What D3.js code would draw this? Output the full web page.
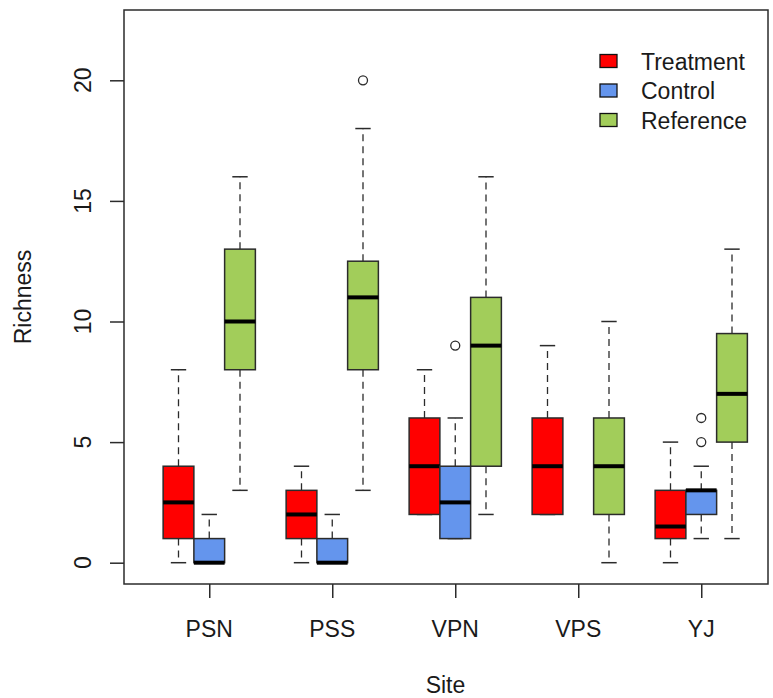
<!DOCTYPE html>
<html>
<head>
<meta charset="utf-8">
<script src="https://cdn.jsdelivr.net/npm/d3@7"></script>
<style>
  html, body { margin: 0; padding: 0; background: #fff; }
  svg { display: block; }
  text { font-family: "Liberation Sans", Arial, sans-serif; fill: #1a1a1a; }
</style>
</head>
<body>
<svg id="chart" width="773" height="698"></svg>
<script>
// Species richness per site, split by plot type.
const sites = ["PSN", "PSS", "VPN", "VPS", "YJ"];
const groups = ["Treatment", "Control", "Reference"];
const groupColors = ["#FF0000", "#6495ED", "#A2CD5A"];
const yTicks = [0, 5, 10, 15, 20];

// Five-number summaries per site: [lower whisker, Q1, median, Q3, upper whisker]
const treatmentStats = [[0, 1, 2.5, 4, 8], [0, 1, 2, 3, 4], [2, 2, 4, 6, 8], [2, 2, 4, 6, 9], [0, 1, 1.5, 3, 5]];
const controlStats   = [[0, 0, 0, 1, 2], [0, 0, 0, 1, 2], [1, 1, 2.5, 4, 6], null, [1, 2, 3, 3, 4]];
const referenceStats = [[3, 8, 10, 13, 16], [3, 8, 11, 12.5, 18], [2, 4, 9, 11, 16], [0, 2, 4, 6, 10], [1, 5, 7, 9.5, 13]];

// Points beyond the whiskers
const treatmentOutliers = [[], [], [], [], []];
const controlOutliers   = [[], [], [9], [], [5, 6]];
const referenceOutliers = [[], [20], [], [], []];

const statsByGroup = [treatmentStats, controlStats, referenceStats];
const outliersByGroup = [treatmentOutliers, controlOutliers, referenceOutliers];

const svg = d3.select("#chart");
const plot = { left: 124, right: 768, top: 10, bottom: 584 };

// Box slots: three per site, one empty slot between sites
const slot = (siteIdx, groupIdx) => 1 + 4 * siteIdx + groupIdx;
const x = d3.scaleLinear().domain([1, 19]).range([178.5, 732]);
const y = d3.scaleLinear().domain([0, 20]).range([562.7, 80.3]);
const boxW = x(2) - x(1);
const capW = boxW / 2;

const lineCol = "#2b2b2b";

// Boxes
const boxes = [];
sites.forEach((s, i) => {
  groups.forEach((g, j) => {
    const st = statsByGroup[j][i];
    if (st) boxes.push({ site: s, group: g, gi: j, pos: slot(i, j), st, out: outliersByGroup[j][i] });
  });
});

const bg = svg.append("g").attr("class", "boxes");
boxes.forEach(b => {
  const g = bg.append("g");
  const cx = x(b.pos);
  const [lo, q1, med, q3, hi] = b.st;
  // whiskers
  g.append("line").attr("x1", cx).attr("x2", cx).attr("y1", y(q3)).attr("y2", y(hi))
    .attr("stroke", lineCol).attr("stroke-width", 1.3).attr("stroke-dasharray", "7,5");
  g.append("line").attr("x1", cx).attr("x2", cx).attr("y1", y(q1)).attr("y2", y(lo))
    .attr("stroke", lineCol).attr("stroke-width", 1.3).attr("stroke-dasharray", "7,5");
  // staples
  [lo, hi].forEach(v => {
    g.append("line").attr("x1", cx - capW / 2).attr("x2", cx + capW / 2)
      .attr("y1", y(v)).attr("y2", y(v)).attr("stroke", lineCol).attr("stroke-width", 1.5);
  });
  // box
  g.append("rect").attr("x", cx - boxW / 2).attr("width", boxW)
    .attr("y", y(q3)).attr("height", y(q1) - y(q3))
    .attr("fill", groupColors[b.gi]).attr("stroke", lineCol).attr("stroke-width", 1.5);
  // median
  g.append("line").attr("x1", cx - boxW / 2).attr("x2", cx + boxW / 2)
    .attr("y1", y(med)).attr("y2", y(med)).attr("stroke", "#000").attr("stroke-width", 4);
  // outliers
  b.out.forEach(v => {
    g.append("circle").attr("cx", cx).attr("cy", y(v)).attr("r", 4.5)
      .attr("fill", "none").attr("stroke", lineCol).attr("stroke-width", 1.3);
  });
});

// Frame
svg.append("rect").attr("x", plot.left).attr("y", plot.top)
  .attr("width", plot.right - plot.left).attr("height", plot.bottom - plot.top)
  .attr("fill", "none").attr("stroke", lineCol).attr("stroke-width", 1.5);

// Y axis
const yAxis = d3.axisLeft(y).tickValues(yTicks).tickSize(14).tickFormat("");
svg.append("g").attr("transform", `translate(${plot.left},0)`).call(yAxis)
  .call(g => g.select(".domain").remove())
  .call(g => g.selectAll("line").attr("stroke", lineCol).attr("stroke-width", 1.5));
svg.append("g").selectAll("text").data(yTicks).join("text")
  .attr("transform", d => `translate(91,${y(d)}) rotate(-90)`)
  .attr("text-anchor", "middle").attr("font-size", 23).text(d => d);

// X axis: tick at each site's centre slot
const siteCenters = sites.map((s, i) => slot(i, 1));
const xAxis = d3.axisBottom(x).tickValues(siteCenters).tickSize(14).tickFormat("");
svg.append("g").attr("transform", `translate(0,${plot.bottom})`).call(xAxis)
  .call(g => g.select(".domain").remove())
  .call(g => g.selectAll("line").attr("stroke", lineCol).attr("stroke-width", 1.5));
svg.append("g").selectAll("text").data(sites).join("text")
  .attr("x", (d, i) => x(siteCenters[i])).attr("y", 637)
  .attr("text-anchor", "middle").attr("font-size", 23).text(d => d);

// Axis titles
svg.append("text").attr("x", (plot.left + plot.right) / 2 - 0.5).attr("y", 693)
  .attr("text-anchor", "middle").attr("font-size", 23).text("Site");
svg.append("text").attr("transform", `translate(31,${(plot.top + plot.bottom) / 2}) rotate(-90)`)
  .attr("text-anchor", "middle").attr("font-size", 23).text("Richness");

// Legend
const legend = svg.append("g").attr("class", "legend");
groups.forEach((g, j) => {
  const cy = 61 + j * 29.5;
  legend.append("rect").attr("x", 600).attr("y", cy - 6.5).attr("width", 17).attr("height", 13)
    .attr("fill", groupColors[j]).attr("stroke", "#111").attr("stroke-width", 1.3);
  legend.append("text").attr("x", 641).attr("y", cy + 8.5).attr("font-size", 23).text(g);
});
</script>
</body>
</html>
